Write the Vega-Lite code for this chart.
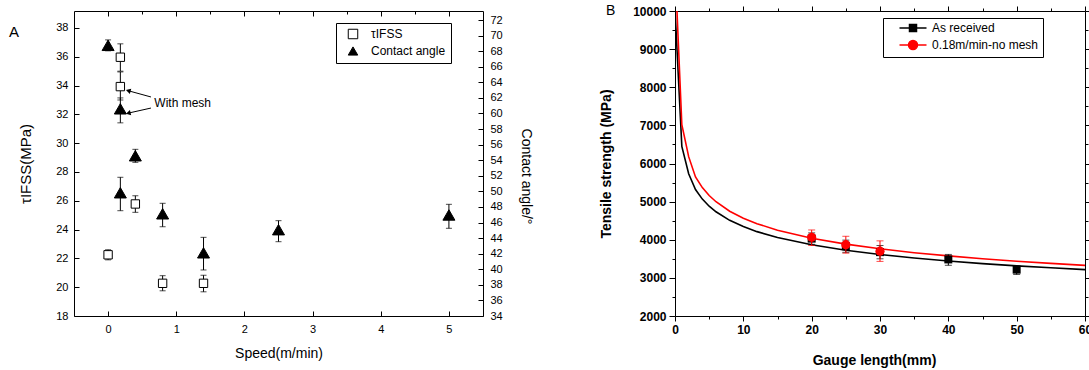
{
  "$schema": "https://vega.github.io/schema/vega-lite/v6.json",
  "padding": {"left": 8, "top": 3, "right": 0, "bottom": 0},
  "autosize": {"type": "pad"},
  "bounds": "flush",
  "spacing": 192,
  "config": {
    "font": "Liberation Sans",
    "view": {"stroke": "black", "strokeWidth": 1},
    "axis": {"domain": false, "grid": false, "labelColor": "black", "titleColor": "black", "tickColor": "black", "labelFont": "Liberation Sans", "titleFont": "Liberation Sans", "titleFontWeight": "normal", "labelFontSize": 11, "titleFontSize": 14, "labelFlush": false},
    "legend": {"labelFont": "Liberation Sans", "labelColor": "black"}
  },
  "datasets": {
    "tau": [
      {"speed": 0, "value": 22.25, "lo": 21.9, "hi": 22.6, "series": "τIFSS"},
      {"speed": 0.18, "value": 35.97, "lo": 35.0, "hi": 36.9, "series": "τIFSS"},
      {"speed": 0.18, "value": 33.93, "lo": 33.0, "hi": 34.95, "series": "τIFSS"},
      {"speed": 0.4, "value": 25.78, "lo": 25.2, "hi": 26.35, "series": "τIFSS"},
      {"speed": 0.8, "value": 20.27, "lo": 19.75, "hi": 20.8, "series": "τIFSS"},
      {"speed": 1.4, "value": 20.27, "lo": 19.68, "hi": 20.83, "series": "τIFSS"}
    ],
    "angle": [
      {"speed": 0, "value": 68.75, "lo": 68.05, "hi": 69.45, "series": "Contact angle"},
      {"speed": 0.18, "value": 60.6, "lo": 58.8, "hi": 62.0, "series": "Contact angle"},
      {"speed": 0.4, "value": 54.57, "lo": 53.73, "hi": 55.4, "series": "Contact angle"},
      {"speed": 0.18, "value": 49.82, "lo": 47.52, "hi": 51.81, "series": "Contact angle"},
      {"speed": 0.8, "value": 47.12, "lo": 45.46, "hi": 48.47, "series": "Contact angle"},
      {"speed": 1.4, "value": 42.11, "lo": 39.91, "hi": 44.1, "series": "Contact angle"},
      {"speed": 2.5, "value": 45.08, "lo": 43.54, "hi": 46.24, "series": "Contact angle"},
      {"speed": 5, "value": 46.97, "lo": 45.26, "hi": 48.34, "series": "Contact angle"}
    ],
    "meshLabel": [{"speed": 0.678, "tau": 32.81, "label": "With mesh"}],
    "arrows": [
      {"id": 1, "speed": 0.629, "tau": 33.21, "speed2": 0.307, "tau2": 33.63},
      {"id": 2, "speed": 0.629, "tau": 32.44, "speed2": 0.307, "tau2": 32.1}
    ],
    "panelA": [{"label": "A"}],
    "panelB": [{"label": "B"}],
    "curves": [
      {"len": 0, "strength": 10050, "series": "As received"},
      {"len": 1, "strength": 6450, "series": "As received"},
      {"len": 2, "strength": 5730, "series": "As received"},
      {"len": 3, "strength": 5317, "series": "As received"},
      {"len": 4, "strength": 5066, "series": "As received"},
      {"len": 5, "strength": 4880, "series": "As received"},
      {"len": 6, "strength": 4733, "series": "As received"},
      {"len": 8, "strength": 4510, "series": "As received"},
      {"len": 10, "strength": 4345, "series": "As received"},
      {"len": 12, "strength": 4213, "series": "As received"},
      {"len": 15, "strength": 4059, "series": "As received"},
      {"len": 20, "strength": 3867, "series": "As received"},
      {"len": 25, "strength": 3725, "series": "As received"},
      {"len": 30, "strength": 3613, "series": "As received"},
      {"len": 35, "strength": 3521, "series": "As received"},
      {"len": 40, "strength": 3443, "series": "As received"},
      {"len": 45, "strength": 3375, "series": "As received"},
      {"len": 50, "strength": 3316, "series": "As received"},
      {"len": 55, "strength": 3264, "series": "As received"},
      {"len": 60, "strength": 3216, "series": "As received"},
      {"len": 0, "strength": 11200, "series": "0.18m/min-no mesh"},
      {"len": 1, "strength": 7020, "series": "0.18m/min-no mesh"},
      {"len": 2, "strength": 6180, "series": "0.18m/min-no mesh"},
      {"len": 3, "strength": 5646, "series": "0.18m/min-no mesh"},
      {"len": 4, "strength": 5367, "series": "0.18m/min-no mesh"},
      {"len": 5, "strength": 5160, "series": "0.18m/min-no mesh"},
      {"len": 6, "strength": 4997, "series": "0.18m/min-no mesh"},
      {"len": 8, "strength": 4749, "series": "0.18m/min-no mesh"},
      {"len": 10, "strength": 4566, "series": "0.18m/min-no mesh"},
      {"len": 12, "strength": 4422, "series": "0.18m/min-no mesh"},
      {"len": 15, "strength": 4251, "series": "0.18m/min-no mesh"},
      {"len": 20, "strength": 4040, "series": "0.18m/min-no mesh"},
      {"len": 25, "strength": 3885, "series": "0.18m/min-no mesh"},
      {"len": 30, "strength": 3762, "series": "0.18m/min-no mesh"},
      {"len": 35, "strength": 3661, "series": "0.18m/min-no mesh"},
      {"len": 40, "strength": 3576, "series": "0.18m/min-no mesh"},
      {"len": 45, "strength": 3502, "series": "0.18m/min-no mesh"},
      {"len": 50, "strength": 3437, "series": "0.18m/min-no mesh"},
      {"len": 55, "strength": 3380, "series": "0.18m/min-no mesh"},
      {"len": 60, "strength": 3329, "series": "0.18m/min-no mesh"}
    ],
    "asrec": [
      {"len": 20, "strength": 4030, "lo": 3880, "hi": 4180},
      {"len": 25, "strength": 3831, "lo": 3670, "hi": 3990},
      {"len": 30, "strength": 3675, "lo": 3500, "hi": 3850},
      {"len": 40, "strength": 3484, "lo": 3330, "hi": 3615},
      {"len": 50, "strength": 3216, "lo": 3090, "hi": 3310}
    ],
    "nomesh": [
      {"len": 20, "strength": 4065, "lo": 3850, "hi": 4257},
      {"len": 25, "strength": 3870, "lo": 3648, "hi": 4091},
      {"len": 30, "strength": 3700, "lo": 3432, "hi": 3971}
    ]
  },
  "hconcat": [
    {
      "width": 409,
      "height": 305,
      "resolve": {"scale": {"y": "independent"}},
      "layer": [
        {"data": {"name": "tau"}, "mark": {"type": "rule", "color": "black", "strokeWidth": 1},
         "encoding": {"x": {"field": "speed", "type": "quantitative", "scale": {"domain": [-0.5, 5.5]}, "axis": null},
                      "y": {"field": "lo", "type": "quantitative", "scale": {"domain": [18, 39.18]}, "axis": null},
                      "y2": {"field": "hi"}}},
        {"data": {"name": "tau"}, "mark": {"type": "tick", "orient": "horizontal", "color": "black", "size": 6, "thickness": 1},
         "encoding": {"x": {"field": "speed", "type": "quantitative", "scale": {"domain": [-0.5, 5.5]}, "axis": null},
                      "y": {"field": "lo", "type": "quantitative", "scale": {"domain": [18, 39.18]}, "axis": null}}},
        {"data": {"name": "tau"}, "mark": {"type": "tick", "orient": "horizontal", "color": "black", "size": 6, "thickness": 1},
         "encoding": {"x": {"field": "speed", "type": "quantitative", "scale": {"domain": [-0.5, 5.5]}, "axis": null},
                      "y": {"field": "hi", "type": "quantitative", "scale": {"domain": [18, 39.18]}, "axis": null}}},
        {"data": {"name": "angle"}, "mark": {"type": "rule", "color": "black", "strokeWidth": 1},
         "encoding": {"x": {"field": "speed", "type": "quantitative", "scale": {"domain": [-0.5, 5.5]}, "axis": null},
                      "y": {"field": "lo", "type": "quantitative", "scale": {"domain": [34, 73.16]}, "axis": null},
                      "y2": {"field": "hi"}}},
        {"data": {"name": "angle"}, "mark": {"type": "tick", "orient": "horizontal", "color": "black", "size": 6, "thickness": 1},
         "encoding": {"x": {"field": "speed", "type": "quantitative", "scale": {"domain": [-0.5, 5.5]}, "axis": null},
                      "y": {"field": "lo", "type": "quantitative", "scale": {"domain": [34, 73.16]}, "axis": null}}},
        {"data": {"name": "angle"}, "mark": {"type": "tick", "orient": "horizontal", "color": "black", "size": 6, "thickness": 1},
         "encoding": {"x": {"field": "speed", "type": "quantitative", "scale": {"domain": [-0.5, 5.5]}, "axis": null},
                      "y": {"field": "hi", "type": "quantitative", "scale": {"domain": [34, 73.16]}, "axis": null}}},
        {"data": {"name": "tau"}, "mark": {"type": "point", "filled": true, "strokeWidth": 1, "size": 70, "opacity": 1},
         "encoding": {
           "x": {"field": "speed", "type": "quantitative", "scale": {"domain": [-0.5, 5.5]},
                 "axis": {"orient": "bottom", "values": [0, 0.5, 1, 1.5, 2, 2.5, 3, 3.5, 4, 4.5, 5], "format": "d", "labelExpr": "datum.value % 1 === 0 ? datum.label : ''", "tickSize": {"condition": {"test": "datum.value % 1 !== 0", "value": -3}, "value": -5}, "labelPadding": 12, "title": "Speed(m/min)", "titleY": 37, "titleBaseline": "middle"}},
           "y": {"field": "value", "type": "quantitative", "scale": {"domain": [18, 39.18]},
                 "axis": {"orient": "left", "values": [18, 20, 22, 24, 26, 28, 30, 32, 34, 36, 38], "format": "d", "tickSize": -5, "labelPadding": 11, "title": "τIFSS(MPa)", "titleFontSize": 15, "titleX": -49, "titleBaseline": "middle"}},
           "shape": {"field": "series", "type": "nominal", "scale": {"domain": ["τIFSS", "Contact angle"], "range": ["square", "triangle-up"]},
                     "legend": {"orient": "none", "legendX": 262, "legendY": 12, "title": null, "strokeColor": "black", "fillColor": "white", "padding": 5, "rowPadding": 3, "symbolOffset": 6, "labelOffset": 12, "labelFontSize": 12, "symbolSize": 90, "symbolStrokeWidth": 1}},
           "fill": {"field": "series", "type": "nominal", "scale": {"domain": ["τIFSS", "Contact angle"], "range": ["white", "black"]},
                    "legend": {"orient": "none", "legendX": 262, "legendY": 12, "title": null, "strokeColor": "black", "fillColor": "white", "padding": 5, "rowPadding": 3, "symbolOffset": 6, "labelOffset": 12, "labelFontSize": 12, "symbolSize": 90, "symbolStrokeWidth": 1}},
           "stroke": {"field": "series", "type": "nominal", "scale": {"domain": ["τIFSS", "Contact angle"], "range": ["black", "black"]},
                      "legend": {"orient": "none", "legendX": 262, "legendY": 12, "title": null, "strokeColor": "black", "fillColor": "white", "padding": 5, "rowPadding": 3, "symbolOffset": 6, "labelOffset": 12, "labelFontSize": 12, "symbolSize": 90, "symbolStrokeWidth": 1}}
         }},
        {"data": {"name": "angle"}, "mark": {"type": "point", "filled": true, "strokeWidth": 1, "size": 144, "opacity": 1},
         "encoding": {
           "x": {"field": "speed", "type": "quantitative", "scale": {"domain": [-0.5, 5.5]}, "axis": null},
           "y": {"field": "value", "type": "quantitative", "scale": {"domain": [34, 73.16]},
                 "axis": {"orient": "right", "values": [34, 36, 38, 40, 42, 44, 46, 48, 50, 52, 54, 56, 58, 60, 62, 64, 66, 68, 70, 72], "format": "d", "tickSize": -5, "labelPadding": 12, "title": "Contact angle/°", "titleAngle": 90, "titleX": 42, "titleY": 165, "titleBaseline": "middle"}},
           "shape": {"field": "series", "type": "nominal", "scale": {"domain": ["τIFSS", "Contact angle"], "range": ["square", "triangle-up"]},
                     "legend": {"orient": "none", "legendX": 262, "legendY": 12, "title": null, "strokeColor": "black", "fillColor": "white", "padding": 5, "rowPadding": 3, "symbolOffset": 6, "labelOffset": 12, "labelFontSize": 12, "symbolSize": 90, "symbolStrokeWidth": 1}},
           "fill": {"field": "series", "type": "nominal", "scale": {"domain": ["τIFSS", "Contact angle"], "range": ["white", "black"]},
                    "legend": {"orient": "none", "legendX": 262, "legendY": 12, "title": null, "strokeColor": "black", "fillColor": "white", "padding": 5, "rowPadding": 3, "symbolOffset": 6, "labelOffset": 12, "labelFontSize": 12, "symbolSize": 90, "symbolStrokeWidth": 1}},
           "stroke": {"field": "series", "type": "nominal", "scale": {"domain": ["τIFSS", "Contact angle"], "range": ["black", "black"]},
                      "legend": {"orient": "none", "legendX": 262, "legendY": 12, "title": null, "strokeColor": "black", "fillColor": "white", "padding": 5, "rowPadding": 3, "symbolOffset": 6, "labelOffset": 12, "labelFontSize": 12, "symbolSize": 90, "symbolStrokeWidth": 1}}
         }},
        {"data": {"name": "meshLabel"}, "mark": {"type": "text", "align": "left", "baseline": "middle", "fontSize": 12, "color": "black"},
         "encoding": {
           "x": {"field": "speed", "type": "quantitative", "scale": {"domain": [-0.5, 5.5]},
                 "axis": {"orient": "top", "values": [0, 0.5, 1, 1.5, 2, 2.5, 3, 3.5, 4, 4.5, 5], "labels": false, "minExtent": 0, "maxExtent": 0, "tickSize": {"condition": {"test": "datum.value % 1 !== 0", "value": -3}, "value": -5}, "title": null}},
           "y": {"field": "tau", "type": "quantitative", "scale": {"domain": [18, 39.18]}, "axis": null},
           "text": {"field": "label"}
         }},
        {"data": {"name": "panelA"}, "mark": {"type": "text", "align": "left", "baseline": "alphabetic", "fontSize": 15, "color": "black"},
         "encoding": {
           "x": {"datum": -1.4535, "type": "quantitative", "scale": {"domain": [-0.5, 5.5]}, "axis": null},
           "y": {"datum": 37.375, "type": "quantitative", "scale": {"domain": [18, 39.18]}, "axis": null},
           "text": {"field": "label"}
         }},
        {"data": {"name": "arrows"}, "mark": {"type": "rule", "color": "black", "strokeWidth": 1},
         "encoding": {
           "x": {"field": "speed", "type": "quantitative", "scale": {"domain": [-0.5, 5.5]}, "axis": null},
           "y": {"field": "tau", "type": "quantitative", "scale": {"domain": [18, 39.18]}, "axis": null},
           "x2": {"field": "speed2"},
           "y2": {"field": "tau2"}
         }},
        {"data": {"name": "arrows"}, "transform": [{"filter": "datum.id === 1"}],
         "mark": {"type": "point", "shape": "triangle", "filled": true, "color": "black", "size": 30, "angle": 285, "opacity": 1},
         "encoding": {
           "x": {"field": "speed2", "type": "quantitative", "scale": {"domain": [-0.5, 5.5]}, "axis": null},
           "y": {"field": "tau2", "type": "quantitative", "scale": {"domain": [18, 39.18]}, "axis": null}
         }},
        {"data": {"name": "arrows"}, "transform": [{"filter": "datum.id === 2"}],
         "mark": {"type": "point", "shape": "triangle", "filled": true, "color": "black", "size": 30, "angle": 257, "opacity": 1},
         "encoding": {
           "x": {"field": "speed2", "type": "quantitative", "scale": {"domain": [-0.5, 5.5]}, "axis": null},
           "y": {"field": "tau2", "type": "quantitative", "scale": {"domain": [18, 39.18]}, "axis": null}
         }}
      ]
    },
    {
      "width": 410,
      "height": 305,
      "layer": [
        {"data": {"name": "curves"}, "mark": {"type": "line", "clip": true, "strokeWidth": 1.6},
         "encoding": {
           "x": {"field": "len", "type": "quantitative", "scale": {"domain": [0, 60]},
                 "axis": {"orient": "bottom", "values": [0, 5, 10, 15, 20, 25, 30, 35, 40, 45, 50, 55, 60], "format": "d", "labelExpr": "datum.value % 10 === 0 ? datum.label : ''", "tickSize": {"condition": {"test": "datum.value % 10 !== 0", "value": 3}, "value": 5}, "labelPadding": 3, "labelFlush": false, "labelFontSize": 12, "labelFontWeight": "bold", "title": "Gauge length(mm)", "titleFontWeight": "bold", "titleFontSize": 14, "titleX": 199, "titleY": 44, "titleBaseline": "middle"}},
           "y": {"field": "strength", "type": "quantitative", "scale": {"domain": [2000, 10000]},
                 "axis": {"orient": "left", "values": [2000, 2500, 3000, 3500, 4000, 4500, 5000, 5500, 6000, 6500, 7000, 7500, 8000, 8500, 9000, 9500, 10000], "format": "d", "labelExpr": "datum.value % 1000 === 0 ? datum.label : ''", "tickSize": {"condition": {"test": "datum.value % 1000 !== 0", "value": 3}, "value": 6}, "labelPadding": 3, "labelFontSize": 12, "labelFontWeight": "bold", "title": "Tensile strength (MPa)", "titleFontWeight": "bold", "titleFontSize": 14, "titleX": -69, "titleBaseline": "middle"}},
           "color": {"field": "series", "type": "nominal", "scale": {"domain": ["As received", "0.18m/min-no mesh"], "range": ["black", "#ff0000"]},
                     "legend": {"orient": "none", "legendX": 809, "legendY": 7, "title": null, "strokeColor": "black", "fillColor": "white", "padding": 4, "rowPadding": 2, "symbolOffset": 20, "labelOffset": 13, "labelFontSize": 12, "symbolSize": 100, "symbolStrokeWidth": 1.5,
                                "encode": {"symbols": {"update": {
                                  "shape": {"signal": "datum.value === 'As received' ? 'M-2.7,0H2.7M-0.7,-0.7H0.7V0.7H-0.7Z' : 'M-2.7,0H2.7M-0.9,0A0.9,0.9,0,1,0,0.9,0A0.9,0.9,0,1,0,-0.9,0Z'"},
                                  "fill": {"signal": "datum.value === 'As received' ? 'black' : '#ff0000'"},
                                  "stroke": {"signal": "datum.value === 'As received' ? 'black' : '#ff0000'"},
                                  "strokeWidth": {"value": 1.5}}}}}}
         }},
        {"data": {"name": "panelB"}, "mark": {"type": "text", "align": "left", "baseline": "alphabetic", "fontSize": 14, "color": "black"},
         "encoding": {
           "x": {"datum": -10.1, "type": "quantitative", "scale": {"domain": [0, 60]}, "axis": null},
           "y": {"datum": 9895, "type": "quantitative", "scale": {"domain": [2000, 10000]}, "axis": null},
           "text": {"field": "label"}
         }},
        {"data": {"name": "asrec"}, "mark": {"type": "rule", "color": "black", "strokeWidth": 1},
         "encoding": {"x": {"field": "len", "type": "quantitative", "scale": {"domain": [0, 60]}, "axis": null},
                      "y": {"field": "lo", "type": "quantitative", "scale": {"domain": [2000, 10000]}, "axis": null},
                      "y2": {"field": "hi"}}},
        {"data": {"name": "asrec"}, "mark": {"type": "tick", "orient": "horizontal", "color": "black", "size": 7, "thickness": 1},
         "encoding": {"x": {"field": "len", "type": "quantitative", "scale": {"domain": [0, 60]}, "axis": null},
                      "y": {"field": "lo", "type": "quantitative", "scale": {"domain": [2000, 10000]}, "axis": null}}},
        {"data": {"name": "asrec"}, "mark": {"type": "tick", "orient": "horizontal", "color": "black", "size": 7, "thickness": 1},
         "encoding": {"x": {"field": "len", "type": "quantitative", "scale": {"domain": [0, 60]}, "axis": null},
                      "y": {"field": "hi", "type": "quantitative", "scale": {"domain": [2000, 10000]}, "axis": null}}},
        {"data": {"name": "asrec"}, "mark": {"type": "point", "shape": "square", "filled": true, "color": "black", "size": 64, "opacity": 1},
         "encoding": {"x": {"field": "len", "type": "quantitative", "scale": {"domain": [0, 60]}, "axis": null},
                      "y": {"field": "strength", "type": "quantitative", "scale": {"domain": [2000, 10000]},
                            "axis": {"orient": "right", "values": [2000, 2500, 3000, 3500, 4000, 4500, 5000, 5500, 6000, 6500, 7000, 7500, 8000, 8500, 9000, 9500, 10000], "labels": false, "minExtent": 0, "maxExtent": 5, "tickSize": {"condition": {"test": "datum.value % 1000 !== 0", "value": 3}, "value": 5}, "title": null}}}},
        {"data": {"name": "nomesh"}, "mark": {"type": "rule", "color": "#ff0000", "strokeWidth": 1},
         "encoding": {"x": {"field": "len", "type": "quantitative", "scale": {"domain": [0, 60]}, "axis": null},
                      "y": {"field": "lo", "type": "quantitative", "scale": {"domain": [2000, 10000]}, "axis": null},
                      "y2": {"field": "hi"}}},
        {"data": {"name": "nomesh"}, "mark": {"type": "tick", "orient": "horizontal", "color": "#ff0000", "size": 7, "thickness": 1},
         "encoding": {"x": {"field": "len", "type": "quantitative", "scale": {"domain": [0, 60]}, "axis": null},
                      "y": {"field": "lo", "type": "quantitative", "scale": {"domain": [2000, 10000]}, "axis": null}}},
        {"data": {"name": "nomesh"}, "mark": {"type": "tick", "orient": "horizontal", "color": "#ff0000", "size": 7, "thickness": 1},
         "encoding": {"x": {"field": "len", "type": "quantitative", "scale": {"domain": [0, 60]}, "axis": null},
                      "y": {"field": "hi", "type": "quantitative", "scale": {"domain": [2000, 10000]}, "axis": null}}},
        {"data": {"name": "nomesh"}, "mark": {"type": "point", "shape": "circle", "filled": true, "color": "#ff0000", "size": 85, "opacity": 1},
         "encoding": {"x": {"field": "len", "type": "quantitative", "scale": {"domain": [0, 60]},
                            "axis": {"orient": "top", "values": [0, 5, 10, 15, 20, 25, 30, 35, 40, 45, 50, 55, 60], "labels": false, "minExtent": 0, "maxExtent": 5, "tickSize": {"condition": {"test": "datum.value % 10 !== 0", "value": 3}, "value": 5}, "title": null}},
                      "y": {"field": "strength", "type": "quantitative", "scale": {"domain": [2000, 10000]}, "axis": null}}}
      ]
    }
  ]
}
